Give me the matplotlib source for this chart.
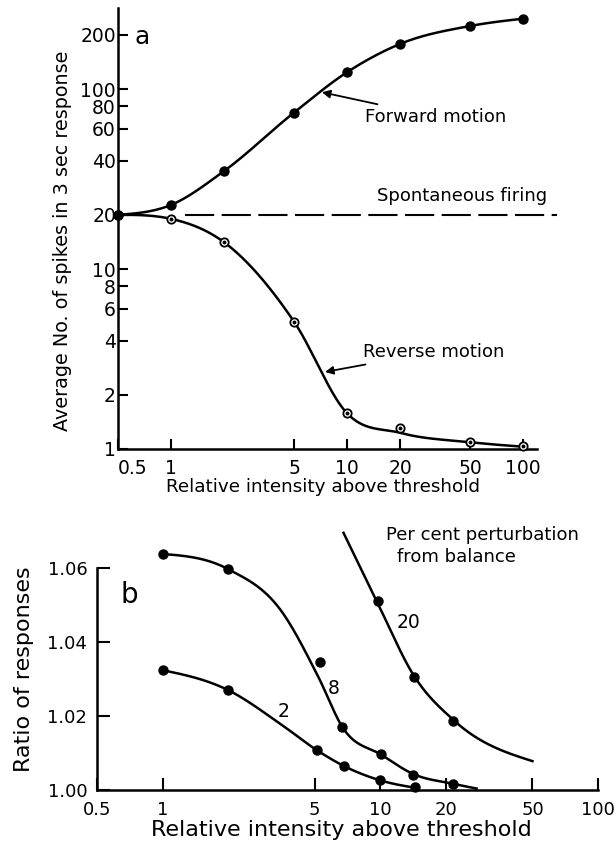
import numpy as np
import matplotlib
matplotlib.use("Agg")
import matplotlib.pyplot as plt
from matplotlib.ticker import FixedLocator, FixedFormatter, NullLocator

# ---------------- data ----------------
# panel a
int_a = [0.5, 1, 2, 5, 10, 20, 50, 100]
forward = [20, 22.7, 35, 74, 124, 178, 224, 246]
reverse = [20, 19, 14.1, 5.1, 1.58, 1.31, 1.09, 1.04]
# smooth line drawn through reverse-motion data (passes below the 20 point)
reverse_line = [20, 19, 14.1, 5.1, 1.58, 1.23, 1.09, 1.03]
spont_level = 20
spont_x = [1.2, 156]
yticks_a = [1, 2, 4, 6, 8, 10, 20, 40, 60, 80, 100, 200]
xticks = [0.5, 1, 5, 10, 20, 50, 100]
xtick_labels = ["0.5", "1", "5", "10", "20", "50", "100"]

# panel b : measured points
p2_x = [1, 2, 5.1, 6.8, 10, 14.5]
p2_y = [1.0324, 1.027, 1.0108, 1.0065, 1.0026, 1.0008]
p8_x = [1, 2, 5.3, 6.7, 10.1, 14.2, 21.5]
p8_y = [1.0638, 1.0597, 1.0345, 1.017, 1.0097, 1.0041, 1.0017]
p20_x = [9.8, 14.3, 21.5]
p20_y = [1.0511, 1.0305, 1.0186]
# panel b : hand-drawn curves
p2_line_x = [1, 2, 3.49, 5.1, 6.8, 10, 14.5]
p2_line_y = [1.0324, 1.027, 1.0178, 1.0108, 1.0065, 1.0026, 1.0006]
p8_line_x = [1, 2, 3.49, 5.2, 6.7, 10.2, 14.2, 21.5, 27.7]
p8_line_y = [1.0638, 1.0597, 1.0486, 1.0305, 1.0170, 1.0094, 1.0043, 1.0017, 1.0004]
p20_line_x = [6.78, 9.69, 14.2, 22.0, 50.0]
p20_line_y = [1.0695, 1.0507, 1.0311, 1.0186, 1.0078]
yticks_b = [1.00, 1.02, 1.04, 1.06]
ytick_labels_b = ["1.00", "1.02", "1.04", "1.06"]


def hermite_smooth(x, y, xi):
    """Cubic Hermite curve with averaged tangents, limited to stay monotone."""
    x = np.asarray(x, float); y = np.asarray(y, float)
    h = np.diff(x); d = np.diff(y) / h
    n = len(x)
    m = np.zeros(n)
    m[0] = d[0]; m[-1] = d[-1]
    for k in range(1, n - 1):
        if d[k - 1] * d[k] <= 0:
            m[k] = 0.0
        else:
            m[k] = (h[k] * d[k - 1] + h[k - 1] * d[k]) / (h[k] + h[k - 1])
    if n > 2:
        m[0] = 1.5 * d[0] - 0.5 * m[1]
        m[-1] = 1.5 * d[-1] - 0.5 * m[-2]
    for k in range(n - 1):
        if d[k] == 0:
            m[k] = m[k + 1] = 0
            continue
        a = m[k] / d[k]; b = m[k + 1] / d[k]
        if a < 0: m[k] = 0; a = 0
        if b < 0: m[k + 1] = 0; b = 0
        s = a * a + b * b
        if s > 9:
            t = 3 / np.sqrt(s)
            m[k] = t * a * d[k]; m[k + 1] = t * b * d[k]
    xi = np.asarray(xi, float)
    idx = np.clip(np.searchsorted(x, xi) - 1, 0, n - 2)
    t = (xi - x[idx]) / h[idx]
    h00 = 2 * t**3 - 3 * t**2 + 1
    h10 = t**3 - 2 * t**2 + t
    h01 = -2 * t**3 + 3 * t**2
    h11 = t**3 - t**2
    return h00 * y[idx] + h10 * h[idx] * m[idx] + h01 * y[idx + 1] + h11 * h[idx] * m[idx + 1]


def smooth_loglog(x, y, npts=400):
    lx = np.log10(x); ly = np.log10(y)
    xi = np.linspace(lx[0], lx[-1], npts)
    return 10 ** xi, 10 ** hermite_smooth(lx, ly, xi)


def smooth_logx(x, y, npts=400):
    lx = np.log10(x)
    xi = np.linspace(lx[0], lx[-1], npts)
    return 10 ** xi, hermite_smooth(lx, y, xi)


W, H = 615, 849
fig = plt.figure(figsize=(W / 100, H / 100), dpi=100)
plt.rcParams['font.family'] = ['DejaVu Sans']


def fr(px, py):
    return px / W, 1 - py / H


LW = 1.8
# ---------------- panel a ----------------
axa = fig.add_axes([118 / W, 1 - 449 / H, (537 - 118) / W, (449 - 8) / H])
axa.set_xscale('log'); axa.set_yscale('log')
axa.set_xlim(0.5, 120)
axa.set_ylim(1, 282)
for s in ['top', 'right']:
    axa.spines[s].set_visible(False)
for s in ['left', 'bottom']:
    axa.spines[s].set_linewidth(1.8)

fx, fy = smooth_loglog(int_a, forward)
axa.plot(fx, fy, color='black', lw=LW, zorder=3, clip_on=False)
rx, ry = smooth_loglog(int_a, reverse_line)
axa.plot(rx, ry, color='black', lw=LW, zorder=3, clip_on=False)
axa.plot(int_a, reverse, 'o', ms=6, mfc='white', mec='black', mew=1.3, zorder=4, clip_on=False)
axa.plot(int_a, reverse, 'o', ms=1.8, color='black', zorder=5, clip_on=False)
axa.plot(int_a, forward, 'o', ms=6.5, color='black', zorder=6, clip_on=False)
axa.plot(spont_x, [spont_level, spont_level], color='black', lw=1.5,
         dashes=(14, 3.6), clip_on=False, zorder=2)

axa.xaxis.set_major_locator(FixedLocator(xticks))
axa.xaxis.set_major_formatter(FixedFormatter(xtick_labels))
axa.xaxis.set_minor_locator(NullLocator())
axa.yaxis.set_major_locator(FixedLocator(yticks_a))
axa.yaxis.set_major_formatter(FixedFormatter([str(v) for v in yticks_a]))
axa.yaxis.set_minor_locator(NullLocator())
axa.tick_params(axis='x', direction='in', length=7, width=1.5, labelsize=13.5, pad=7)
axa.tick_params(axis='y', direction='in', length=7, width=1.5, labelsize=13.5, pad=1.5)
fig.canvas.draw()
axa.get_xticklabels()[0].set_ha('left')

axa.text(0.684, 194, "a", fontsize=18, ha='center', va='center')
axa.text(14.8, 25.3, "Spontaneous firing", fontsize=13, ha='left', va='center')
axa.annotate("Forward motion", xy=(7.2, 96), xytext=(12.7, 70), fontsize=13,
             ha='left', va='center',
             arrowprops=dict(arrowstyle='-|>', color='black', lw=1.3,
                             mutation_scale=12, shrinkA=3, shrinkB=0))
axa.annotate("Reverse motion", xy=(7.5, 2.68), xytext=(12.3, 3.46), fontsize=13,
             ha='left', va='center',
             arrowprops=dict(arrowstyle='-|>', color='black', lw=1.3,
                             mutation_scale=12, shrinkA=3, shrinkB=0))

fig.text(*fr(63, 241), "Average No. of spikes in 3 sec response", rotation=90,
         fontsize=13.8, ha='center', va='center')
fig.text(*fr(323, 487), "Relative intensity above threshold", fontsize=13.2,
         ha='center', va='center')

# ---------------- panel b ----------------
axb = fig.add_axes([97 / W, 1 - 790 / H, (598 - 97) / W, (790 - 568) / H])
axb.set_xscale('log')
axb.set_xlim(0.5, 100)
axb.set_ylim(1.0, 1.06)
for s in ['top', 'right']:
    axb.spines[s].set_visible(False)
for s in ['left', 'bottom']:
    axb.spines[s].set_linewidth(1.8)

for lx_, ly_ in [(p2_line_x, p2_line_y), (p8_line_x, p8_line_y), (p20_line_x, p20_line_y)]:
    sx, sy = smooth_logx(lx_, ly_)
    axb.plot(sx, sy, color='black', lw=LW, zorder=3, clip_on=False)
for px_, py_ in [(p2_x, p2_y), (p8_x, p8_y), (p20_x, p20_y)]:
    axb.plot(px_, py_, 'o', ms=6.5, color='black', zorder=5, clip_on=False)

axb.xaxis.set_major_locator(FixedLocator(xticks))
axb.xaxis.set_major_formatter(FixedFormatter(xtick_labels))
axb.xaxis.set_minor_locator(NullLocator())
axb.yaxis.set_major_locator(FixedLocator(yticks_b))
axb.yaxis.set_major_formatter(FixedFormatter(ytick_labels_b))
axb.yaxis.set_minor_locator(NullLocator())
axb.tick_params(axis='x', direction='in', length=9, width=1.5, labelsize=13, pad=8)
axb.tick_params(axis='y', direction='in', length=9, width=1.5, labelsize=13, pad=7)

axb.text(0.707, 1.0527, "b", fontsize=20, ha='center', va='center')
axb.text(3.61, 1.0211, "2", fontsize=13.5, ha='center', va='center')
axb.text(6.1, 1.0273, "8", fontsize=13.5, ha='center', va='center')
axb.text(13.5, 1.0454, "20", fontsize=13.5, ha='center', va='center')
axb.text(10.67, 1.0689, "Per cent perturbation", fontsize=13, ha='left', va='center')
axb.text(11.95, 1.0630, "from balance", fontsize=13, ha='left', va='center')

fig.text(*fr(24, 669), "Ratio of responses", rotation=90, fontsize=16,
         ha='center', va='center')
fig.text(*fr(341, 830), "Relative intensity above threshold", fontsize=16,
         ha='center', va='center')

fig.savefig("out.png", dpi=100)
